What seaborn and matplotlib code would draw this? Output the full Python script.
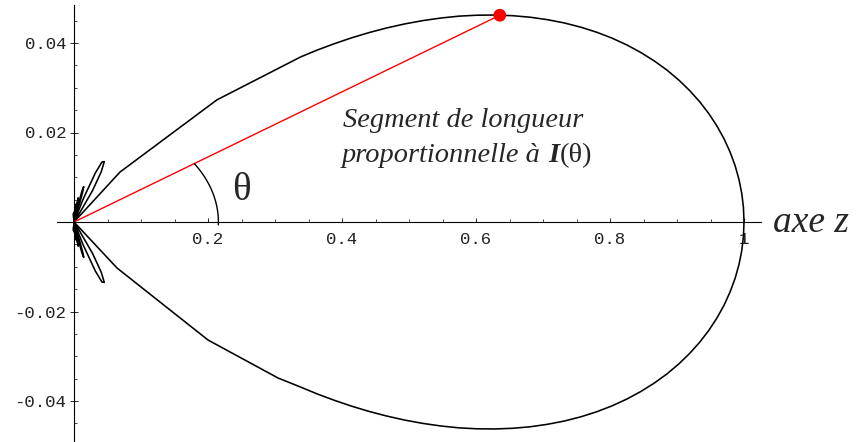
import numpy as np
import pandas as pd
import matplotlib
matplotlib.use("Agg")
import matplotlib.pyplot as plt
from matplotlib.ticker import FixedLocator
import seaborn as sns

# Polar radiation pattern I(theta), drawn in the (z, transverse) plane.
# Coarse samples of the main lobe near its first zero (upper / lower half)
upper_start_x = [0.0, 0.0687, 0.2134]
upper_start_y = [0.0, 0.01117, 0.02730]
lower_end_x = [0.3045, 0.2000, 0.0642, 0.0]
lower_end_y = [-0.03486, -0.02637, -0.01028, 0.0]

# Finely sampled part of the main lobe (upper half, from the shoulder to z = 1);
# the lower half is its mirror image
lobe_x = [0.3383, 0.3630, 0.3883, 0.4140, 0.4402, 0.4667, 0.4935, 0.5204,
          0.5475, 0.5745, 0.6015, 0.6283, 0.6548, 0.6809, 0.7066, 0.7318,
          0.7563, 0.7801, 0.8030, 0.8251, 0.8461, 0.8661, 0.8850, 0.9026,
          0.9189, 0.9339, 0.9475, 0.9596, 0.9702, 0.9792, 0.9867, 0.9925,
          0.9967, 0.9992, 1.0]
lobe_y = [0.03689, 0.03842, 0.03983, 0.04114, 0.04232, 0.04336, 0.04426, 0.04500,
          0.04558, 0.04600, 0.04621, 0.04625, 0.04610, 0.04576, 0.04521, 0.04448,
          0.04354, 0.04241, 0.04109, 0.03957, 0.03787, 0.03599, 0.03395, 0.03173,
          0.02937, 0.02686, 0.02422, 0.02146, 0.01860, 0.01564, 0.01261, 0.00951,
          0.00637, 0.00319, 0.0]

# Side lobes (upper half; the pattern is symmetric about the z axis)
side_lobes = [
    ([0, 0.0052, 0.0276, 0.0406, 0.0452, 0.0417, 0.0320, 0.0139, 0],
     [0, 0.0012, 0.0070, 0.0112, 0.0135, 0.0134, 0.0110, 0.0052, 0]),
    ([0, 0.0068, 0.0131, 0.0145, 0.0118, 0.0039, 0],
     [0, 0.0033, 0.0068, 0.0079, 0.0069, 0.0025, 0]),
    ([0, 0.0033, 0.0063, 0.0028, 0],
     [0, 0.0026, 0.0054, 0.0027, 0]),
    ([0, 0.0017, 0.0031, 0.0013, 0],
     [0, 0.0019, 0.0040, 0.0020, 0]),
    ([0, 0.0009, 0.0015, 0.0006, 0],
     [0, 0.0015, 0.0030, 0.0016, 0]),
    ([0, 0.0003, 0.0006, 0.0001, 0],
     [0, 0.0012, 0.0023, 0.0012, 0]),
    ([0, -0.0004, -0.0008, -0.0005, 0],
     [0, 0.0009, 0.0019, 0.0010, 0]),
]

# Highlighted direction: point of the pattern at angle theta
point_x = 0.6355
point_y = 0.0462

x_ticks = [0.2, 0.4, 0.6, 0.8, 1.0]
x_tick_labels = ["0.2", "0.4", "0.6", "0.8", "1"]
y_ticks = [-0.04, -0.02, 0.02, 0.04]
y_tick_labels = ["-0.04", "-0.02", "0.02", "0.04"]

# ---- assemble the curve pieces ----
main_x = upper_start_x + lobe_x + lobe_x[::-1][1:] + lower_end_x
main_y = upper_start_y + lobe_y + [-v for v in lobe_y[::-1][1:]] + lower_end_y
rows = [("main", x, y) for x, y in zip(main_x, main_y)]
for i, (lx, ly) in enumerate(side_lobes):
    rows += [(f"up{i}", x, y) for x, y in zip(lx, ly)]
    rows += [(f"down{i}", x, -y) for x, y in zip(lx, ly)]
curve = pd.DataFrame(rows, columns=["piece", "x", "y"])

sns.set_style("white")
plt.rcParams["font.family"] = ["DejaVu Sans"]

W, H = 860, 442
fig = plt.figure(figsize=(W / 100, H / 100), dpi=100)
ax = fig.add_axes([0, 0, 1, 1])
ax.set_facecolor("white")

sns.lineplot(data=curve, x="x", y="y", units="piece", estimator=None, sort=False,
             color="black", linewidth=1.15, ax=ax, legend=False)

# segment of length I(theta) and its end point
sns.lineplot(x=[0.0, point_x], y=[0.0, point_y], sort=False, estimator=None,
             color="red", linewidth=1.0, ax=ax)
sns.scatterplot(x=[point_x], y=[point_y], color="red", s=85, edgecolor="none",
                zorder=5, ax=ax)

# angle marker
t = np.radians(np.linspace(-1.6, 33.5, 80))
ax.plot(0.2155 * np.cos(t), 0.0236 * np.sin(t), color="black", lw=1.0)

ax.set_xlim(-74 / 670, (W - 74) / 670)
ax.set_ylim(-(H - 222) / 4475, 222 / 4475)

# axes through the origin
for s in ["top", "right"]:
    ax.spines[s].set_visible(False)
ax.spines["left"].set_position(("data", 0))
ax.spines["bottom"].set_position(("data", 0))
ax.spines["left"].set_bounds(-0.0495, 0.0485)
ax.spines["bottom"].set_bounds(-0.025, 1.026)
for s in ["left", "bottom"]:
    ax.spines[s].set_linewidth(0.8)
    ax.spines[s].set_color("black")

ax.xaxis.set_major_locator(FixedLocator(x_ticks))
ax.xaxis.set_minor_locator(FixedLocator(list(np.round(np.arange(0.05, 1.001, 0.05), 3))))
ax.yaxis.set_major_locator(FixedLocator(y_ticks))
ax.yaxis.set_minor_locator(FixedLocator([v for v in np.round(np.arange(-0.045, 0.0451, 0.005), 4) if v != 0]))
ax.set_xticklabels(x_tick_labels, fontfamily="Liberation Mono", fontsize=12.5, color="#222222")
ax.set_yticklabels(y_tick_labels, fontfamily="Liberation Mono", fontsize=12.5, color="#222222")
ax.tick_params(axis="x", which="major", direction="in", length=3.2, width=0.7, pad=7.5,
               bottom=True, top=False)
ax.tick_params(axis="x", which="minor", direction="in", length=1.9, width=0.6,
               bottom=True, top=False)
ax.tick_params(axis="y", which="major", direction="inout", length=6, width=0.7, pad=2.5,
               left=True, right=False)
ax.tick_params(axis="y", which="minor", direction="in", length=2.2, width=0.6,
               left=True, right=False)
ax.set_xlabel("")
ax.set_ylabel("")
ax.grid(False)

serif = "Liberation Serif"

# annotations (figure pixel coordinates)
def fx(px):
    return px / W

def fy(py):
    return (H - py) / H

fig.text(fx(241), fy(191), "θ", fontfamily=serif, fontsize=28, ha="center", va="center")
fig.text(fx(773), fy(232), "axe z", fontfamily=serif, style="italic", fontsize=27,
         ha="left", va="baseline")
fig.text(fx(343), fy(127), "Segment de longueur", fontfamily=serif, style="italic",
         fontsize=20.4, ha="left", va="baseline")

t1 = fig.text(fx(342), fy(162), "proportionnelle à", fontfamily=serif, style="italic",
              fontsize=20.4, ha="left", va="baseline")
fig.canvas.draw()
r = fig.canvas.get_renderer()
x_next = t1.get_window_extent(r).x1 + 7
t2 = fig.text(x_next / W, fy(162), "I", fontfamily=serif, style="italic", weight="bold",
              fontsize=20.4, ha="left", va="baseline")
x_next = t2.get_window_extent(r).x1 + 1
fig.text(x_next / W, fy(162), "(θ)", fontfamily=serif, fontsize=20.4,
         ha="left", va="baseline")

fig.savefig("out.png", dpi=100, facecolor="white")
